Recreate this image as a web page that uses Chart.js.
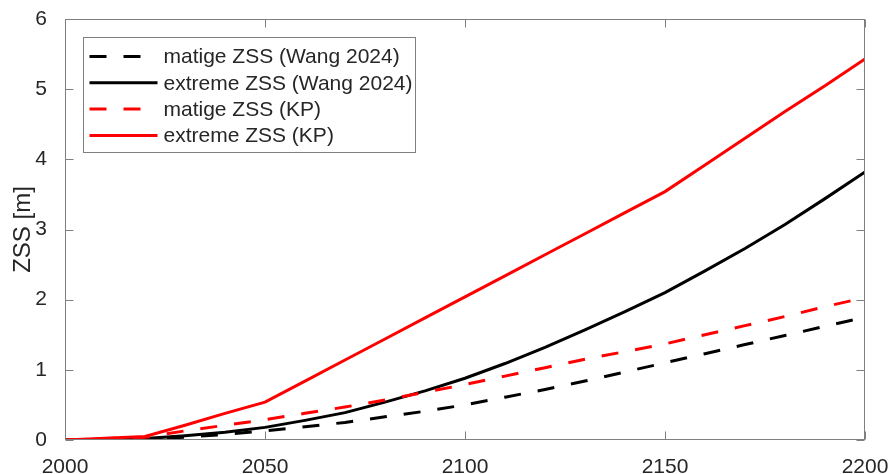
<!DOCTYPE html>
<html>
<head>
<meta charset="utf-8">
<script src="https://cdn.jsdelivr.net/npm/chart.js@4.4.1/dist/chart.umd.min.js"></script>
<style>
  html, body { margin: 0; padding: 0; background: #fff; }
  #wrap { width: 891px; height: 474px; }
</style>
</head>
<body>
<div id="wrap"><canvas id="zssChart"></canvas></div>
<script>
// jaren (x-as)
const years = [2000, 2020, 2030, 2040, 2050, 2060, 2070, 2080, 2090, 2100,
               2110, 2120, 2130, 2140, 2150, 2160, 2170, 2180, 2190, 2200];

// zeespiegelstijging [m]
const matigeWang  = [0, 0.01, 0.04, 0.08, 0.13, 0.19, 0.25, 0.33, 0.41, 0.50,
                     0.61, 0.72, 0.84, 0.97, 1.10, 1.23, 1.36, 1.49, 1.62, 1.75];
const extremeWang = [0, 0.02, 0.06, 0.11, 0.18, 0.28, 0.39, 0.54, 0.70, 0.88,
                     1.09, 1.32, 1.57, 1.83, 2.10, 2.41, 2.73, 3.07, 3.44, 3.82];
const matigeKP    = [0, 0.04, 0.13, 0.21, 0.29, 0.38, 0.47, 0.57, 0.68, 0.79,
                     0.91, 1.03, 1.15, 1.26, 1.37, 1.50, 1.63, 1.76, 1.90, 2.03];
const extremeKP   = [0, 0.05, 0.21, 0.38, 0.54, 0.84, 1.14, 1.44, 1.74, 2.04,
                     2.34, 2.64, 2.94, 3.24, 3.54, 3.92, 4.30, 4.68, 5.05, 5.43];

const seriesLabels = ['matige ZSS (Wang 2024)', 'extreme ZSS (Wang 2024)', 'matige ZSS (KP)', 'extreme ZSS (KP)'];
const xTicks = [2000, 2050, 2100, 2150, 2200];
const yTicks = [0, 1, 2, 3, 4, 5, 6];

const FONT = '"Liberation Sans", Arial, Helvetica, sans-serif';
const TEXT = '#262626';
const AXIS = '#808080';
const DASH = [17, 17];

const toPoints = (vals) => vals.map((v, i) => ({ x: years[i], y: v }));

const makeSet = (label, vals, color, dashed, idx) => ({
    label: label,
    data: toPoints(vals),
    borderColor: color,
    backgroundColor: color,
    borderWidth: 3,
    borderDash: dashed ? DASH : [],
    pointRadius: 0,
    tension: 0,
    fill: false,
    order: 4 - idx
});

// kader met naar binnen gerichte tickjes (matlab-stijl)
const boxPlugin = {
    id: 'boxPlugin',
    afterDatasetsDraw(chart) {
        const ctx = chart.ctx;
        const a = chart.chartArea;
        const xs = chart.scales.x, ys = chart.scales.y;
        const L = Math.round(a.left) + 0.5, R = Math.round(a.right) - 0.5;
        const T = Math.round(a.top) + 0.5, B = Math.round(a.bottom) - 0.5;
        const tl = 8;
        ctx.save();
        ctx.strokeStyle = AXIS;
        ctx.lineWidth = 1;
        ctx.setLineDash([]);
        ctx.strokeRect(L, T, R - L, B - T);
        ctx.beginPath();
        xTicks.forEach(t => {
            const px = Math.round(xs.getPixelForValue(t)) + 0.5;
            ctx.moveTo(px, B); ctx.lineTo(px, B - tl);
            ctx.moveTo(px, T); ctx.lineTo(px, T + tl);
        });
        yTicks.forEach(t => {
            const py = Math.round(ys.getPixelForValue(t)) + 0.5;
            ctx.moveTo(L, py); ctx.lineTo(L + tl, py);
            ctx.moveTo(R, py); ctx.lineTo(R - tl, py);
        });
        ctx.stroke();
        ctx.restore();
    }
};

// legenda linksboven in het assenvlak
const legendPlugin = {
    id: 'legendPlugin',
    afterDraw(chart) {
        const ctx = chart.ctx;
        const a = chart.chartArea;
        const left = Math.round(a.left) + 18.5, top = Math.round(a.top) + 18.5;
        const w = 332, h = 115, rowH = 26.3;
        ctx.save();
        ctx.fillStyle = '#fff';
        ctx.fillRect(left, top, w, h);
        ctx.strokeStyle = AXIS;
        ctx.lineWidth = 1;
        ctx.strokeRect(left, top, w, h);
        ctx.font = '21px ' + FONT;
        ctx.textBaseline = 'middle';
        chart.data.datasets.forEach((ds, i) => {
            const y = top + 19 + i * rowH;
            ctx.beginPath();
            ctx.strokeStyle = ds.borderColor;
            ctx.lineWidth = ds.borderWidth;
            ctx.setLineDash(ds.borderDash);
            ctx.moveTo(left + 6, y);
            ctx.lineTo(left + 74, y);
            ctx.stroke();
            ctx.setLineDash([]);
            ctx.fillStyle = TEXT;
            ctx.fillText(ds.label, left + 80, y + 1);
        });
        ctx.restore();
    }
};

const ctx = document.getElementById('zssChart').getContext('2d');
const zssChart = new Chart(ctx, {
    type: 'line',
    data: {
        datasets: [
            makeSet(seriesLabels[0], matigeWang, '#000000', true, 0),
            makeSet(seriesLabels[1], extremeWang, '#000000', false, 1),
            makeSet(seriesLabels[2], matigeKP, '#ff0000', true, 2),
            makeSet(seriesLabels[3], extremeKP, '#ff0000', false, 3)
        ]
    },
    options: {
        responsive: true,
        maintainAspectRatio: false,
        animation: false,
        layout: { padding: { left: 0, right: 26, top: 19, bottom: 0 } },
        plugins: {
            legend: { display: false },
            tooltip: { enabled: false }
        },
        scales: {
            x: {
                type: 'linear',
                min: 2000,
                max: 2200,
                afterBuildTicks: (s) => { s.ticks = xTicks.map(v => ({ value: v })); },
                afterFit: (s) => { s.height = 34; s.paddingRight = 0; s.paddingLeft = 0; },
                grid: { display: false },
                border: { display: false },
                ticks: {
                    font: { family: FONT, size: 21 },
                    color: TEXT,
                    padding: 7,
                    maxRotation: 0,
                    callback: (v) => String(v)
                }
            },
            y: {
                min: 0,
                max: 6,
                afterBuildTicks: (s) => { s.ticks = yTicks.map(v => ({ value: v })); },
                afterFit: (s) => { s.width = 65; s.paddingTop = 0; s.paddingBottom = 0; },
                grid: { display: false },
                border: { display: false },
                ticks: { font: { family: FONT, size: 21 }, color: TEXT, padding: 10 },
                title: {
                    display: true,
                    text: 'ZSS [m]',
                    color: TEXT,
                    font: { family: FONT, size: 24 },
                    padding: { top: 9, bottom: 0 }
                }
            }
        }
    },
    plugins: [boxPlugin, legendPlugin]
});
</script>
</body>
</html>
